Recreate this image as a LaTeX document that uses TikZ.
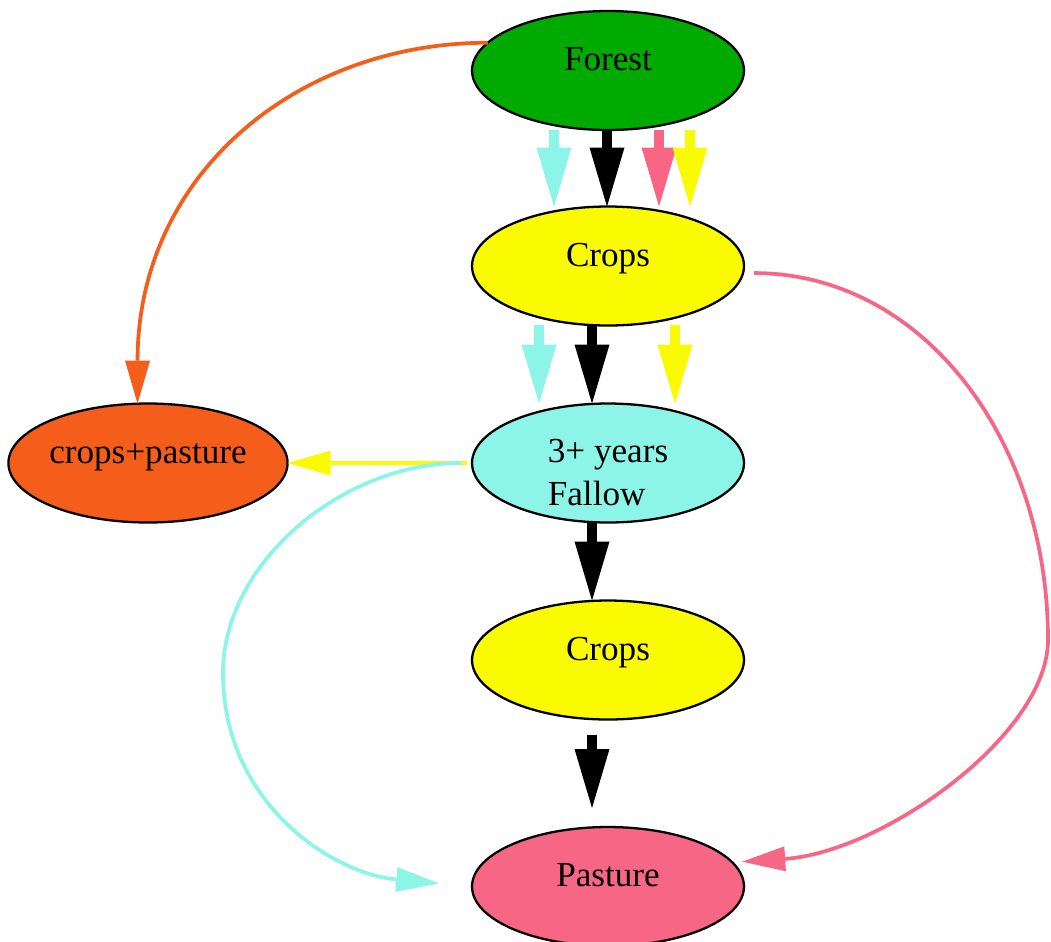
\documentclass[tikz,border=0pt]{standalone}
\usepackage{fontspec}
\setmainfont{Liberation Serif}
\usetikzlibrary{arrows.meta,calc,shapes.geometric}
\definecolor{forestc}{HTML}{00AA00}
\definecolor{cropsc}{HTML}{FAFA00}
\definecolor{fallowc}{HTML}{8CF5E8}
\definecolor{mixc}{HTML}{F45D1A}
\definecolor{pasturec}{HTML}{F86685}
\begin{document}
\begin{tikzpicture}[x=0.02cm, y=-0.02cm,
  state/.style={ellipse, draw, line width=1.3pt, minimum width=5.44cm, minimum height=2.38cm,
    inner sep=0pt, outer sep=0pt, text height=0pt, text depth=0pt,
    font=\fontsize{20}{24}\selectfont},
  bigarr/.style={line width=0.2cm, -{Triangle[length=1.18cm, width=0.7cm, line width=0pt]}},
  thinarr/.style={line width=0.075cm, -{Triangle[length=0.86cm, width=0.5cm, line width=0pt]}}]
\useasboundingbox (0,0) rectangle (1051,941);
% nodes
\node[state, fill=forestc] (forest) at (608,70.5) {Forest};
\node[state, fill=cropsc] (crops1) at (608,266) {Crops};
\node[state, fill=fallowc, align=left, text height=1.68cm, text depth=0pt] (fallow) at (608,463) {3+ years\\Fallow};
\node[state, fill=mixc] (mix) at (148,463) {crops+pasture};
\node[state, fill=cropsc] (crops2) at (608,660) {Crops};
\node[state, fill=pasturec] (pasture) at (608,886.5) {Pasture};
% forest -> crops
\draw[bigarr, fallowc] ($(forest.south)+(-54,0)$) -- ($(crops1.north)+(-54,0)$);
\draw[bigarr, black] ($(forest.south)+(-1,0)$) -- ($(crops1.north)+(-1,0)$);
\draw[bigarr, pasturec] ($(forest.south)+(51,0)$) -- ($(crops1.north)+(51,0)$);
\draw[bigarr, cropsc] ($(forest.south)+(82,0)$) -- ($(crops1.north)+(82,0)$);
% crops -> fallow
\draw[bigarr, fallowc] ($(crops1.south)+(-69,0)$) -- ($(fallow.north)+(-69,0)$);
\draw[bigarr, black] ($(crops1.south)+(-16,0)$) -- ($(fallow.north)+(-16,0)$);
\draw[bigarr, cropsc] ($(crops1.south)+(67,0)$) -- ($(fallow.north)+(67,0)$);
% main line down
\draw[bigarr, black] ($(fallow.south)+(-16,0)$) -- ($(crops2.north)+(-16,0)$);
\draw[bigarr, black, shorten <=0.3cm, shorten >=0.38cm] ($(crops2.south)+(-16,0)$) -- ($(pasture.north)+(-16,0)$);
% side edges
\draw[thinarr, mixc] (forest.167) .. controls +(-190,0) and +(0,-230) .. (mix.100);
\draw[thinarr, cropsc, shorten <=0.1cm] (fallow.west) -- (mix.east);
\draw[thinarr, fallowc, shorten <=0.22cm, shorten >=0.66cm] (fallow.west)
  .. controls +(-130,0) and +(0,-110) .. (223,673)
  .. controls +(0,130) and +(-140,-13) .. (pasture.west);
\draw[thinarr, pasturec, shorten <=0.22cm, shorten >=0.2cm] (crops1.-3)
  .. controls +(180,0) and +(0,-200) .. (1048,640)
  .. controls +(0,95) and +(150,-10) .. (pasture.11);
\end{tikzpicture}
\end{document}
